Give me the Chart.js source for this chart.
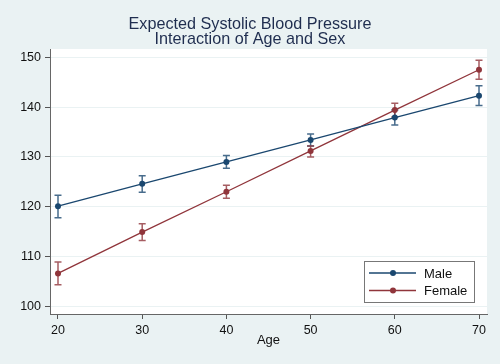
<!DOCTYPE html>
<html>
<head>
<meta charset="utf-8">
<script src="https://cdn.jsdelivr.net/npm/chart.js@4/dist/chart.umd.min.js"></script>
<style>
  html, body { margin: 0; padding: 0; background: #EAF2F3; }
  #wrap { width: 500px; height: 364px; }
</style>
</head>
<body>
<div id="wrap"><canvas id="chart" width="500" height="364"></canvas></div>
<script>
// Expected systolic BP by age, with 95% CI, for each sex
const AGES = [20, 30, 40, 50, 60, 70];
const MALE_MEAN = [120.1, 124.6, 129.0, 133.4, 137.9, 142.3];
const MALE_LO   = [117.8, 122.9, 127.7, 132.2, 136.4, 140.3];
const MALE_HI   = [122.3, 126.2, 130.3, 134.6, 139.4, 144.3];
const FEMALE_MEAN = [106.6, 114.9, 123.0, 131.2, 139.4, 147.5];
const FEMALE_LO   = [104.3, 113.2, 121.7, 130.0, 138.0, 145.6];
const FEMALE_HI   = [108.9, 116.6, 124.3, 132.2, 140.8, 149.4];
const X_TICKS = [20, 30, 40, 50, 60, 70];
const Y_TICKS = [100, 110, 120, 130, 140, 150];
const TITLE_LINES = ['Expected Systolic Blood Pressure', 'Interaction of Age and Sex'];

const FONT = '"Liberation Sans", Arial, sans-serif';
const BG = '#EAF2F3';
const NAVY = '#1A476F';
const MAROON = '#90353B';

Chart.defaults.font.family = FONT;

const toPoints = (means) => AGES.map((a, i) => ({ x: a, y: means[i] }));

const series = [
  { label: 'Male', mean: MALE_MEAN, lo: MALE_LO, hi: MALE_HI, color: NAVY, bar: 'rgba(26,71,111,0.8)' },
  { label: 'Female', mean: FEMALE_MEAN, lo: FEMALE_LO, hi: FEMALE_HI, color: MAROON, bar: 'rgba(144,53,59,0.8)' },
];

// white plot region on the blue-grey page
const plotBackground = {
  id: 'plotBackground',
  beforeDraw(chart) {
    const { ctx, chartArea: a } = chart;
    ctx.save();
    ctx.fillStyle = BG;
    ctx.fillRect(0, 0, chart.width, chart.height);
    ctx.fillStyle = '#fff';
    ctx.fillRect(a.left, a.top, a.right - a.left, a.bottom - a.top);
    ctx.restore();
  },
};

// capped CI bars, drawn under the markers
const errorBars = {
  id: 'errorBars',
  beforeDatasetsDraw(chart) {
    const { ctx } = chart;
    const yScale = chart.scales.y;
    ctx.save();
    ctx.lineWidth = 1.5;
    series.forEach((s, di) => {
      const meta = chart.getDatasetMeta(di);
      ctx.strokeStyle = s.bar;
      meta.data.forEach((pt, i) => {
        const x = pt.x;
        const yLo = yScale.getPixelForValue(s.lo[i]);
        const yHi = yScale.getPixelForValue(s.hi[i]);
        ctx.beginPath();
        ctx.moveTo(x, yLo); ctx.lineTo(x, yHi);
        ctx.moveTo(x - 3.5, yLo); ctx.lineTo(x + 3.5, yLo);
        ctx.moveTo(x - 3.5, yHi); ctx.lineTo(x + 3.5, yHi);
        ctx.stroke();
      });
    });
    ctx.restore();
  },
};

// two-line title + boxed legend inside the plot
const annotations = {
  id: 'annotations',
  afterDraw(chart) {
    const { ctx, chartArea: a } = chart;
    ctx.save();
    ctx.fillStyle = '#1F2D4F';
    ctx.font = '16.2px ' + FONT;
    ctx.textAlign = 'center';
    ctx.textBaseline = 'alphabetic';
    TITLE_LINES.forEach((t, i) => ctx.fillText(t, chart.width / 2, 28.5 + i * 15));

    const bx = a.right - 123, by = a.bottom - 53, bw = 110, bh = 41;
    ctx.fillStyle = '#fff';
    ctx.fillRect(bx, by, bw, bh);
    ctx.strokeStyle = '#777';
    ctx.lineWidth = 1;
    ctx.strokeRect(bx + 0.5, by + 0.5, bw, bh);

    ctx.font = '13px ' + FONT;
    ctx.textAlign = 'left';
    ctx.textBaseline = 'middle';
    series.forEach((s, i) => {
      const y = by + 12 + i * 17.5;
      ctx.strokeStyle = s.color;
      ctx.lineWidth = 1.3;
      ctx.beginPath();
      ctx.moveTo(bx + 5, y); ctx.lineTo(bx + 52, y);
      ctx.stroke();
      ctx.fillStyle = s.color;
      ctx.beginPath();
      ctx.arc(bx + 29, y, 3, 0, Math.PI * 2);
      ctx.fill();
      ctx.fillStyle = '#111';
      ctx.fillText(s.label, bx + 60, y + 1);
    });
    ctx.restore();
  },
};

new Chart(document.getElementById('chart').getContext('2d'), {
  type: 'line',
  data: {
    datasets: series.map(s => ({
      label: s.label,
      data: toPoints(s.mean),
      borderColor: s.color,
      backgroundColor: s.color,
      borderWidth: 1.3,
      pointRadius: 3,
      pointBorderWidth: 0,
      tension: 0,
    })),
  },
  options: {
    responsive: false,
    animation: false,
    layout: { padding: { top: 49, right: 13, left: 0, bottom: 0 } },
    plugins: {
      legend: { display: false },
      title: { display: false },
      tooltip: { enabled: false },
    },
    scales: {
      x: {
        type: 'linear',
        min: 19.05,
        max: 70.95,
        afterBuildTicks: (s) => { s.ticks = X_TICKS.map(v => ({ value: v })); },
        afterFit: (s) => { s.height = 50; },
        grid: { drawOnChartArea: false, tickColor: '#555', tickLength: 5 },
        border: { color: '#666', width: 1 },
        ticks: { color: '#111', font: { size: 12.5 }, padding: 4, maxRotation: 0 },
        title: { display: true, text: 'Age', color: '#111', font: { size: 13 }, padding: { top: 4, bottom: 16 } },
      },
      y: {
        type: 'linear',
        min: 98.45,
        max: 151.67,
        afterBuildTicks: (s) => { s.ticks = Y_TICKS.map(v => ({ value: v })); },
        afterFit: (s) => { s.width = 50; },
        grid: { color: BG, lineWidth: 1, tickColor: '#555', tickLength: 5 },
        border: { color: '#666', width: 1 },
        ticks: { color: '#111', font: { size: 12.5 }, padding: 4 },
      },
    },
  },
  plugins: [plotBackground, errorBars, annotations],
});
</script>
</body>
</html>
